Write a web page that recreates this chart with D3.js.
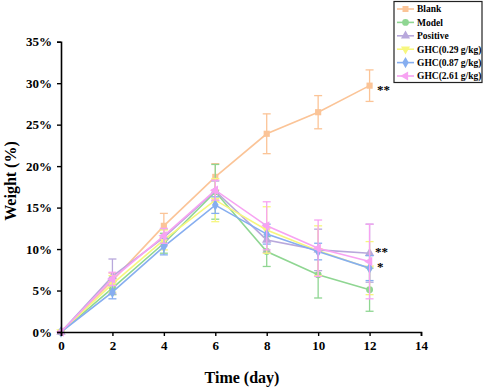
<!doctype html>
<html>
<head>
<meta charset="utf-8">
<title>Weight vs time</title>
<script src="https://d3js.org/d3.v7.min.js"></script>
<style>
  body { margin: 0; background: #fff; }
  svg text { font-family: "Liberation Serif", "Times New Roman", serif; font-weight: bold; }
</style>
</head>
<body>
<div id="chart"></div>
<script>
// data
var days = [0, 2, 4, 6, 8, 10, 12];
var groups = ["Blank", "Model", "Positive", "GHC(0.29 g/kg)", "GHC(0.87 g/kg)", "GHC(2.61 g/kg)"];
var blank    = [0, 6.2, 12.8, 18.7, 23.9, 26.5, 29.7];
var blankErr = [0, 0.9, 1.5, 1.6, 2.4, 2.0, 1.9];
var model    = [0, 5.3, 10.7, 16.9, 9.7, 6.9, 5.1];
var modelErr = [0, 0.8, 1.2, 3.3, 1.8, 2.8, 2.6];
var positive    = [0, 6.7, 11.4, 17.0, 11.1, 9.9, 9.5];
var positiveErr = [0, 2.1, 1.0, 1.2, 1.5, 2.5, 3.5];
var ghcLow    = [0, 5.8, 11.1, 15.9, 12.3, 9.8, 7.7];
var ghcLowErr = [0, 1.0, 1.2, 2.6, 2.8, 3.0, 3.2];
var ghcMid    = [0, 4.8, 10.3, 15.3, 11.8, 9.7, 7.7];
var ghcMidErr = [0, 0.8, 1.0, 1.0, 1.2, 1.0, 1.5];
var ghcHigh    = [0, 6.4, 11.6, 17.1, 12.8, 10.1, 8.5];
var ghcHighErr = [0, 0.8, 0.9, 1.2, 2.9, 3.4, 4.5];
var xTicks = [0, 2, 4, 6, 8, 10, 12, 14];
var yTicks = [0, 5, 10, 15, 20, 25, 30, 35];
var colors = ["#fbc497", "#8fd692", "#b8a8dc", "#f7f77e", "#86aef0", "#f7a3f2"];

var series = [
  {name: groups[0], v: blank, e: blankErr, sym: d3.symbolSquare, rot: 0},
  {name: groups[1], v: model, e: modelErr, sym: d3.symbolCircle, rot: 0},
  {name: groups[2], v: positive, e: positiveErr, sym: d3.symbolTriangle, rot: 0},
  {name: groups[3], v: ghcLow, e: ghcLowErr, sym: d3.symbolTriangle, rot: 180},
  {name: groups[4], v: ghcMid, e: ghcMidErr, sym: d3.symbolDiamond, rot: 0},
  {name: groups[5], v: ghcHigh, e: ghcHighErr, sym: d3.symbolTriangle, rot: -90}
];

var width = 484, height = 389;
var svg = d3.select("#chart").append("svg")
  .attr("width", width)
  .attr("height", height);

var x = d3.scaleLinear().domain([0, 14]).range([61, 421]);
var y = d3.scaleLinear().domain([0, 35]).range([332, 41.7]);

// series
series.forEach(function(s, i) {
  var g = svg.append("g");
  var pts = days.map(function(d, k) { return {d: d, v: s.v[k], e: s.e[k]}; });

  // error bars
  pts.filter(function(p) { return p.e > 0; }).forEach(function(p) {
    g.append("line")
      .attr("x1", x(p.d)).attr("x2", x(p.d))
      .attr("y1", y(p.v - p.e)).attr("y2", y(p.v + p.e))
      .attr("stroke", colors[i]).attr("stroke-width", 1.3);
    [p.v - p.e, p.v + p.e].forEach(function(val) {
      g.append("line")
        .attr("x1", x(p.d) - 4).attr("x2", x(p.d) + 4)
        .attr("y1", y(val)).attr("y2", y(val))
        .attr("stroke", colors[i]).attr("stroke-width", 1.3);
    });
  });

  g.append("path")
    .datum(pts)
    .attr("fill", "none")
    .attr("stroke", colors[i])
    .attr("stroke-width", 1.6)
    .attr("d", d3.line().x(function(p) { return x(p.d); }).y(function(p) { return y(p.v); }));

  g.selectAll(".pt")
    .data(pts)
    .enter()
    .append("path")
      .attr("d", d3.symbol().type(s.sym).size(38))
      .attr("transform", function(p) { return "translate(" + x(p.d) + "," + y(p.v) + ") rotate(" + s.rot + ")"; })
      .attr("fill", colors[i]);
});

// axes
var xAxis = svg.append("g")
  .attr("transform", "translate(0,332)")
  .call(d3.axisBottom(x).tickValues(xTicks).tickSize(4).tickPadding(5));
var yAxis = svg.append("g")
  .attr("transform", "translate(61,0)")
  .call(d3.axisLeft(y).tickValues(yTicks).tickSize(4).tickPadding(5)
    .tickFormat(function(d) { return d + "%"; }));

[xAxis, yAxis].forEach(function(a) {
  a.select(".domain").attr("stroke", "#000").attr("stroke-width", 1.6);
  a.selectAll(".tick line").attr("stroke", "#000").attr("stroke-width", 1.4);
  a.selectAll(".tick text").attr("fill", "#000")
    .style("font-size", "13px")
    .style("font-family", "'Liberation Serif', serif")
    .style("font-weight", "bold");
});

// axis titles
svg.append("text")
  .attr("x", 242).attr("y", 383)
  .attr("text-anchor", "middle")
  .style("font-size", "16px")
  .text("Time (day)");

svg.append("text")
  .attr("transform", "translate(16,181) rotate(-90)")
  .attr("text-anchor", "middle")
  .style("font-size", "16px")
  .text("Weight (%)");

// significance marks
svg.append("text").attr("x", 377).attr("y", 94).style("font-size", "13px").text("**");
svg.append("text").attr("x", 375).attr("y", 256).style("font-size", "13px").text("**");
svg.append("text").attr("x", 377).attr("y", 271).style("font-size", "13px").text("*");

// legend
var legend = svg.append("g");
legend.append("rect")
  .attr("x", 394).attr("y", 1.5)
  .attr("width", 88).attr("height", 81)
  .attr("fill", "#fff")
  .attr("stroke", "#222")
  .attr("stroke-width", 1.2);

series.forEach(function(s, i) {
  var ly = 9 + i * 13.4;
  legend.append("line")
    .attr("x1", 397).attr("x2", 414)
    .attr("y1", ly).attr("y2", ly)
    .attr("stroke", colors[i]).attr("stroke-width", 1.6);
  legend.append("path")
    .attr("d", d3.symbol().type(s.sym).size(36))
    .attr("transform", "translate(405.5," + ly + ") rotate(" + s.rot + ")")
    .attr("fill", colors[i]);
  legend.append("text")
    .attr("x", 417).attr("y", ly + 3.3)
    .style("font-size", "9.5px")
    .text(s.name);
});
</script>
</body>
</html>
